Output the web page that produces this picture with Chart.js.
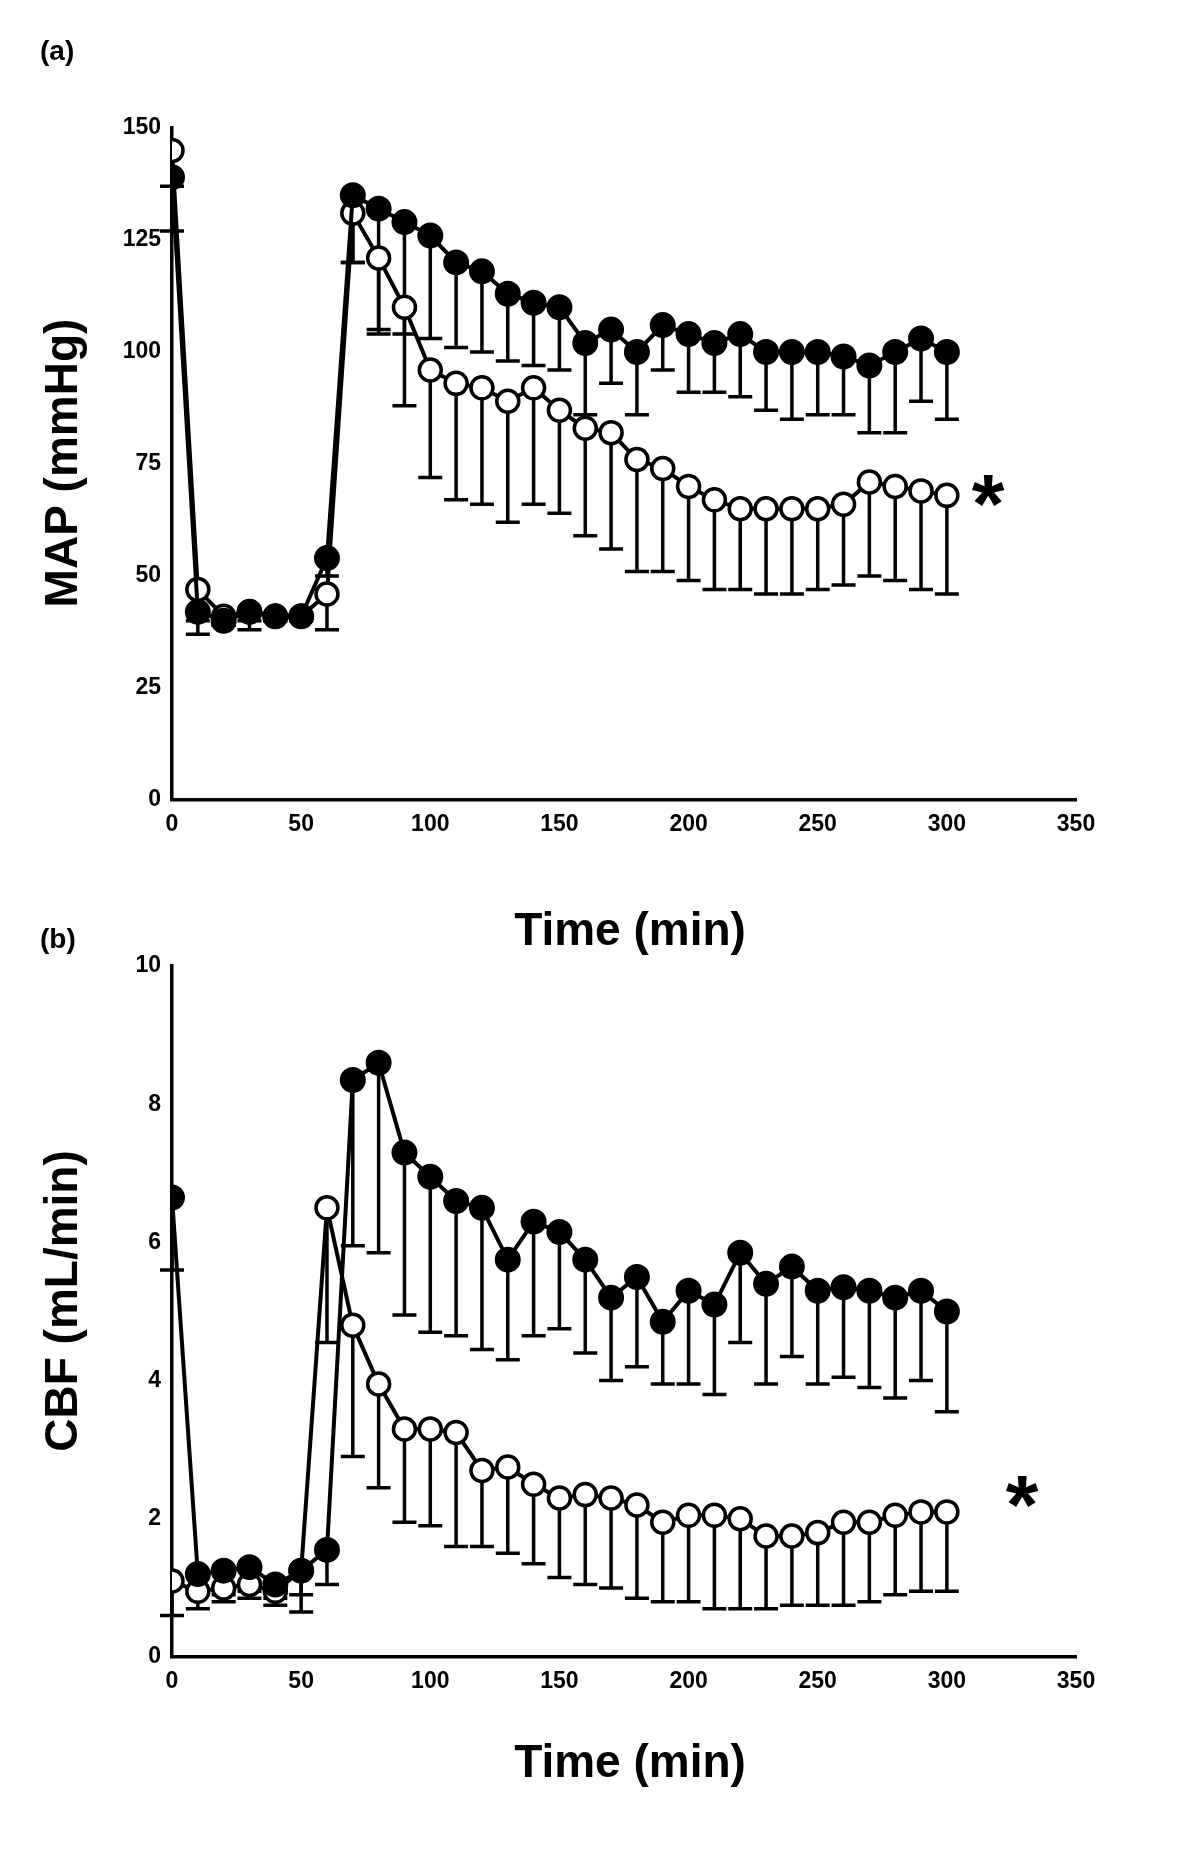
<!DOCTYPE html>
<html><head><meta charset="utf-8">
<script src="https://cdn.jsdelivr.net/npm/chart.js@4"></script>
<style>
body{margin:0;background:#fff;width:1200px;height:1852px;position:relative;overflow:hidden}
canvas{position:absolute;left:0}
</style></head><body>
<canvas id="mapChart" width="1200" height="960" style="top:0"></canvas>
<canvas id="cbfChart" width="1200" height="926" style="top:926px"></canvas>
<script>
// Time points (min)
const times = [0,10,20,30,40,50,60,70,80,90,100,110,120,130,140,150,160,170,180,190,200,210,220,230,240,250,260,270,280,290,300];

// Panel (a) MAP
const mapClosed = [139,42,40,42,41,41,54,135,132,129,126,120,118,113,111,110,102,105,100,106,104,102,104,100,100,100,99,97,100,103,100];
const mapClosedLow = [127,40,39,40,40,40,50,120,104,104,103,101,100,98,97,96,86,93,86,96,91,91,90,87,85,86,86,82,82,89,85];
const mapOpen = [145,47,41,42,41,41,46,131,121,110,96,93,92,89,92,87,83,82,76,74,70,67,65,65,65,65,66,71,70,69,68];
const mapOpenLow = [137,37,39,38,40,40,38,120,105,88,72,67,66,62,66,64,59,56,51,51,49,47,47,46,46,47,48,50,49,47,46];

// Panel (b) CBF
const cbfClosed = [6.65,1.2,1.25,1.3,1.05,1.25,1.55,8.35,8.6,7.3,6.95,6.6,6.5,5.75,6.3,6.15,5.75,5.2,5.5,4.85,5.3,5.1,5.85,5.4,5.65,5.3,5.35,5.3,5.2,5.3,5.0];
const cbfClosedLow = [5.6,0.9,0.9,0.95,0.85,0.9,1.05,5.95,5.85,4.95,4.7,4.65,4.45,4.3,4.65,4.75,4.4,4.0,4.2,3.95,3.95,3.8,4.55,3.95,4.35,3.95,4.05,3.9,3.75,4.0,3.55];
const cbfOpen = [1.1,0.95,1.0,1.05,0.95,1.25,6.5,4.8,3.95,3.3,3.3,3.25,2.7,2.75,2.5,2.3,2.35,2.3,2.2,1.95,2.05,2.05,2.0,1.75,1.75,1.8,1.95,1.95,2.05,2.1,2.1];
const cbfOpenLow = [0.6,0.7,0.8,0.85,0.75,0.65,4.55,2.9,2.45,1.95,1.9,1.6,1.6,1.5,1.35,1.15,1.05,1.0,0.85,0.8,0.8,0.7,0.7,0.7,0.75,0.75,0.75,0.8,0.9,0.95,0.95];

const FONT = 'Liberation Sans, Arial, sans-serif';

// downward one-sided error bars, titles, panel label, asterisk
const extras = {
    id: 'extras',
    beforeDatasetsDraw(chart, args, opts) {
        const ctx = chart.ctx, x = chart.scales.x, y = chart.scales.y;
        ctx.save();
        ctx.strokeStyle = '#000';
        ctx.lineWidth = 3.5;
        opts.lows.forEach((lows, di) => {
            const vals = opts.means[di];
            lows.forEach((lo, i) => {
                const px = x.getPixelForValue(times[i]);
                const top = y.getPixelForValue(vals[i]);
                const bot = y.getPixelForValue(lo);
                ctx.beginPath();
                ctx.moveTo(px, top); ctx.lineTo(px, bot);
                ctx.moveTo(px - 12, bot); ctx.lineTo(px + 12, bot);
                ctx.stroke();
            });
        });
        ctx.restore();
    },
    afterDraw(chart, args, opts) {
        const ctx = chart.ctx;
        ctx.save();
        ctx.fillStyle = '#000';
        ctx.font = 'bold 28px ' + FONT;
        ctx.textBaseline = 'top';
        ctx.fillText(opts.label, opts.labelX, opts.labelY);
        ctx.textAlign = 'center';
        ctx.textBaseline = 'middle';
        ctx.font = 'bold 46px ' + FONT;
        ctx.fillText('Time (min)', 630, opts.xTitleY);
        ctx.save();
        ctx.translate(64, opts.yTitleY);
        ctx.rotate(-Math.PI / 2);
        ctx.fillText(opts.yTitle, 0, 0);
        ctx.restore();
        ctx.font = 'bold 84px ' + FONT;
        ctx.fillText('*', opts.starX, opts.starY);
        ctx.restore();
    }
};

function makeChart(id, closed, open, lows, yMax, yStep, top, xHeight, extraOpts) {
    const pts = arr => arr.map((v, i) => ({ x: times[i], y: v }));
    return new Chart(document.getElementById(id), {
        type: 'line',
        data: {
            datasets: [{
                data: pts(closed),
                borderColor: '#000', borderWidth: 4,
                pointRadius: 12, pointBackgroundColor: '#000', pointBorderColor: '#000', pointBorderWidth: 2
            }, {
                data: pts(open),
                borderColor: '#000', borderWidth: 4,
                pointRadius: 11, pointBackgroundColor: '#fff', pointBorderColor: '#000', pointBorderWidth: 3.5
            }]
        },
        options: {
            responsive: false,
            animation: false,
            layout: { padding: { top: top, right: 124, left: 0, bottom: 0 } },
            plugins: {
                legend: { display: false },
                tooltip: { enabled: false },
                extras: Object.assign({ lows: lows, means: [closed, open] }, extraOpts)
            },
            scales: {
                x: {
                    type: 'linear', min: 0, max: 350,
                    ticks: { stepSize: 50, color: '#000', font: { family: FONT, size: 23, weight: 'bold' } },
                    grid: { display: false, drawTicks: true, tickLength: 8, tickColor: '#000', tickWidth: 3 },
                    border: { color: '#000', width: 3.5 },
                    afterFit: s => { s.height = xHeight; }
                },
                y: {
                    min: 0, max: yMax,
                    ticks: { stepSize: yStep, color: '#000', font: { family: FONT, size: 23, weight: 'bold' } },
                    grid: { display: false, drawTicks: true, tickLength: 8, tickColor: '#000', tickWidth: 3 },
                    border: { color: '#000', width: 3.5 },
                    afterFit: s => { s.width = 172; }
                }
            }
        },
        plugins: [extras]
    });
}

makeChart('mapChart', mapClosed, mapOpen, [mapClosedLow, mapOpenLow], 150, 25, 128, 160,
    { label: '(a)', labelX: 40, labelY: 38, starX: 988, starY: 510,
      xTitleY: 932, yTitle: 'MAP (mmHg)', yTitleY: 463 });
makeChart('cbfChart', cbfClosed, cbfOpen, [cbfClosedLow, cbfOpenLow], 10, 2, 40, 195,
    { label: '(b)', labelX: 40, labelY: 0, starX: 1022, starY: 585,
      xTitleY: 838, yTitle: 'CBF (mL/min)', yTitleY: 375 });
</script>
</body></html>
